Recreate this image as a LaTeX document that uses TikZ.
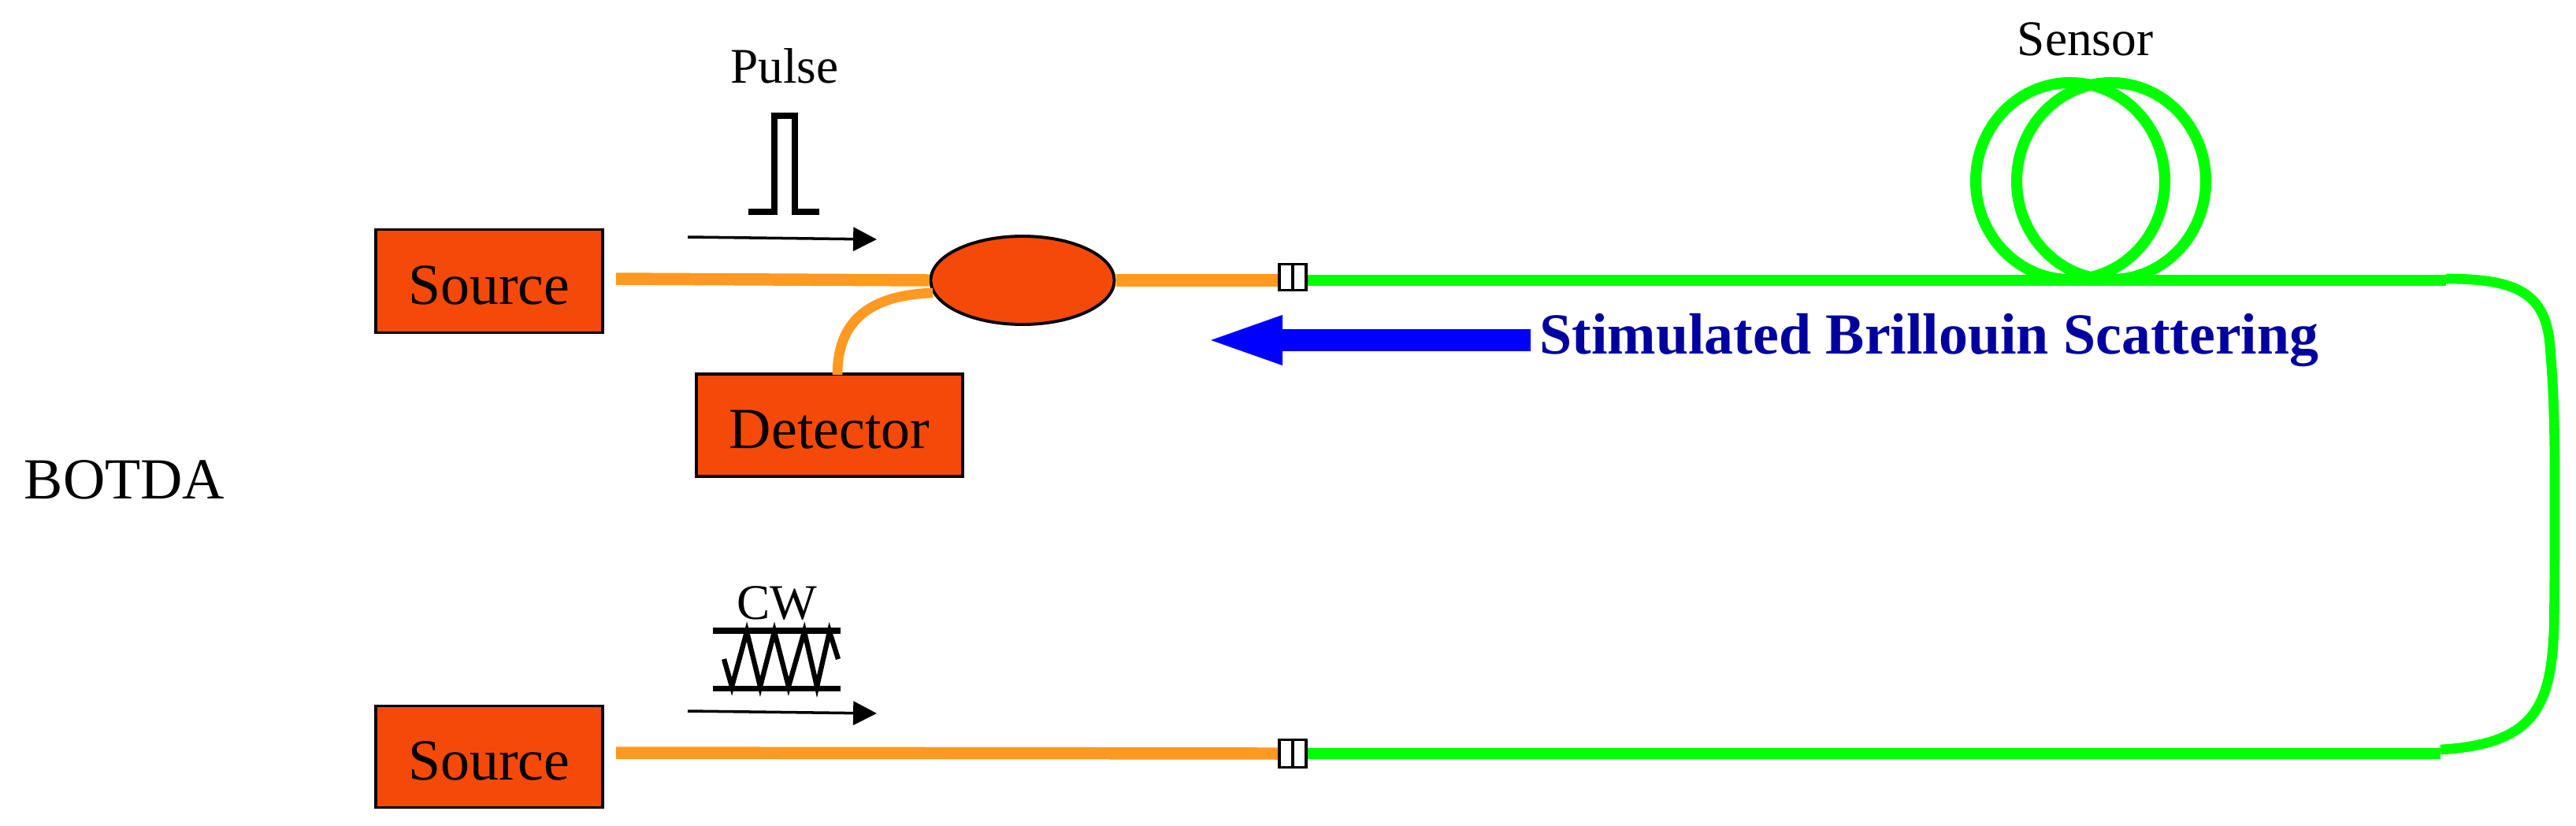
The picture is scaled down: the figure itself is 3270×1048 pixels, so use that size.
\documentclass[tikz,border=0pt]{standalone}
\usepackage{fontspec}
\setmainfont{Liberation Serif}
\usetikzlibrary{shapes.geometric,arrows.meta}
\definecolor{boxred}{RGB}{245,73,10}
\definecolor{fiberorange}{RGB}{255,153,33}
\definecolor{fibergreen}{RGB}{0,255,0}
\definecolor{labelnavy}{RGB}{0,0,160}
\newcommand{\boxtext}[1]{\raisebox{-1.6pt}[\height][\depth]{#1}}
\tikzset{
	unit/.style={draw=black, fill=boxred, line width=1.1pt, inner sep=0pt, font=\fontsize{21}{25}\selectfont},
	joint/.style={draw=black, fill=white, line width=1.1pt, inner sep=0pt},
	orangefiber/.style={fiberorange, line width=4.4pt},
	greenfiber/.style={fibergreen, line width=4pt},
	tag/.style={inner sep=0pt, font=\fontsize{18}{22}\selectfont},
	pointer/.style={black, line width=1pt, -{Triangle[length=8.5pt,width=8.5pt]}},
	glyph/.style={black, line width=2pt}
}
\begin{document}
\begin{tikzpicture}[x=0.01cm, y=-0.01cm]
	\useasboundingbox (0,0) rectangle (3270,1048);
	\node[unit, minimum width=288*0.2845pt, minimum height=131*0.2845pt] (source1) at (621,357) {\boxtext{Source}};
	\node[unit, minimum width=288*0.2845pt, minimum height=129*0.2845pt] (source2) at (621,961) {\boxtext{Source}};
	\node[unit, minimum width=338*0.2845pt, minimum height=130*0.2845pt] (detector) at (1053,540) {\boxtext{Detector}};
	\node[unit, shape=ellipse, minimum width=233*0.2845pt, minimum height=112*0.2845pt] (coupler) at (1298,356) {};
	\node[joint, minimum width=34*0.2845pt, minimum height=33*0.2845pt] (joint1) at (1641,352) {};
	\node[joint, minimum width=34*0.2845pt, minimum height=35*0.2845pt] (joint2) at (1641,957) {};
	\draw[line width=1.1pt] (joint1.north) -- (joint1.south);
	\draw[line width=1.1pt] (joint2.north) -- (joint2.south);
	\coordinate (pulsestart) at (782,354);
	\coordinate (cwstart) at (782,956);
	\coordinate (branch) at (1063,476);
	\draw[orangefiber] (pulsestart) -- (coupler.west);
	\draw[orangefiber] (coupler.east) -- (coupler.east -| joint1.west);
	\draw[orangefiber] (cwstart) -- (joint2.west);
	\draw[fiberorange, line width=3.6pt] (branch) .. controls (1063,420) and (1090,375) .. (coupler.188);
	\draw[greenfiber] (2628,230) ellipse (120 and 125);
	\draw[greenfiber] (2680,230) ellipse (120 and 125);
	\draw[greenfiber] (coupler.east -| joint1.east) -- (3105,356);
	\draw[greenfiber] (joint2.east) -- (3098,957);
	\draw[fibergreen, line width=3.6pt] (3105,354) .. controls (3190,354) and (3228,370) .. (3236,430)
		.. controls (3241,480) and (3243,540) .. (3243,600)
		.. controls (3243,700) and (3243,750) .. (3242,800)
		.. controls (3238,900) and (3215,945) .. (3098,952);
	\node[tag] (pulselabel) at (996,84) {Pulse};
	\node[tag] (cwlabel) at (986,766) {CW};
	\node[tag] (sensorlabel) at (2647,50) {Sensor};
	\node[inner sep=0pt, font=\fontsize{21}{25}\selectfont] (botda) at (158,609) {BOTDA};
	\node[anchor=west, inner sep=3.1pt, text=labelnavy, font=\fontsize{21}{25}\selectfont\bfseries] (brillouin) at (1943,432) {Stimulated Brillouin Scattering};
	\coordinate (backtip) at (1526,432);
	\draw[blue, line width=8pt, -{Triangle[length=29pt,width=15.5pt]}] (brillouin.west) -- (backtip);
	\coordinate (pulsetail) at (873,301);
	\coordinate (pulsehead) at (1113,304);
	\coordinate (cwtail) at (873,903);
	\coordinate (cwhead) at (1113,906);
	\draw[pointer] (pulsetail) -- (pulsehead);
	\draw[pointer] (cwtail) -- (cwhead);
	\draw[glyph] (950,269) -- (983,269) -- (983,147) -- (1009,147) -- (1009,269) -- (1040,269);
	\draw[glyph] (905,801) -- (1067,801);
	\draw[glyph] (905,874) -- (1067,874);
	\draw[glyph, line width=1.8pt] (919,837) -- (929,872) -- (948,802) -- (965,872) -- (983,802) -- (1001,872)
		-- (1021,802) -- (1037,872) -- (1053,802) -- (1064,837);
\end{tikzpicture}
\end{document}
